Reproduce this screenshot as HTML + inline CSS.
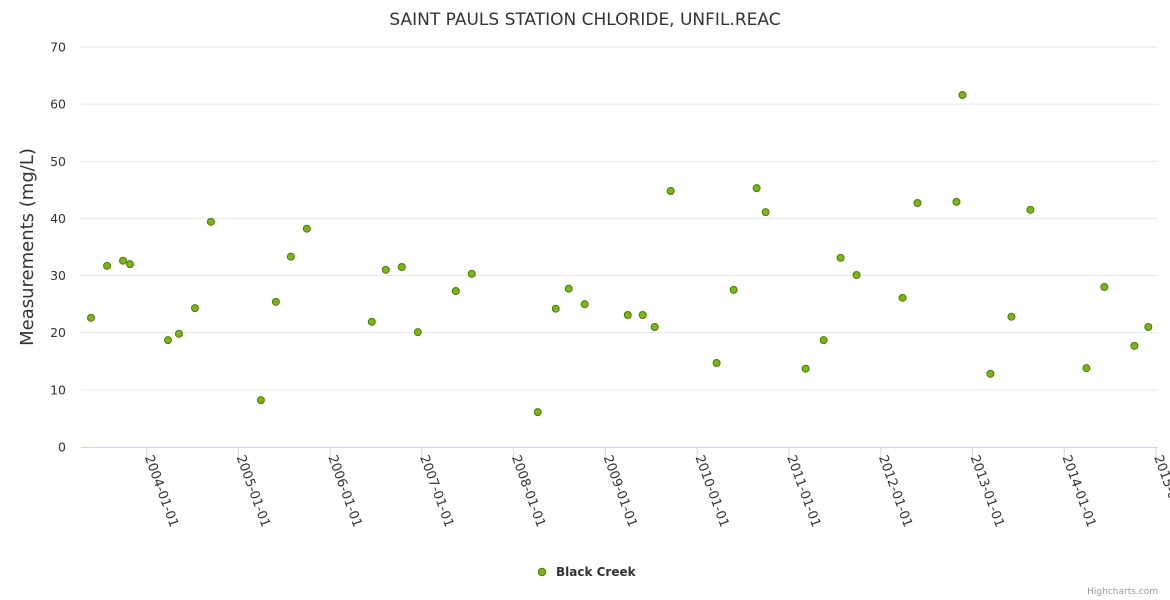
<!DOCTYPE html>
<html><head><meta charset="utf-8"><style>
html,body{margin:0;padding:0;background:#fff;}
svg{display:block;font-family:"DejaVu Sans","Liberation Sans",sans-serif;}
</style></head><body>
<svg id="chart" width="1170" height="600" xmlns="http://www.w3.org/2000/svg">
<text x="585" y="25" text-anchor="middle" font-size="17" fill="#333">SAINT PAULS STATION CHLORIDE, UNFIL.REAC</text>
<text transform="translate(33,247) rotate(-90)" text-anchor="middle" font-size="18" fill="#333">Measurements (mg/L)</text>
<g id="grid"></g><g id="xaxis"></g><g id="points"></g>
<g>
<circle cx="542" cy="572" r="3.7" fill="#7cb518" stroke="#4a7a0a" stroke-width="1"/>
<text x="556" y="576" font-size="12" font-weight="bold" fill="#333">Black Creek</text>
</g>
<text x="1158" y="594" text-anchor="end" font-size="9" fill="#999">Highcharts.com</text>
</svg>
<script>
const yTicks=[0,10,20,30,40,50,60,70];
const xTickYears=[2004,2005,2006,2007,2008,2009,2010,2011,2012,2013,2014,2015];
const dates=[2003.393,2003.568,2003.742,2003.818,2004.232,2004.352,2004.526,2004.700,2005.245,2005.408,2005.571,2005.745,2006.453,2006.606,2006.780,2006.955,2007.369,2007.543,2008.262,2008.458,2008.600,2008.774,2009.243,2009.406,2009.537,2009.711,2010.212,2010.397,2010.648,2010.746,2011.182,2011.378,2011.563,2011.737,2012.238,2012.401,2012.826,2012.891,2013.196,2013.425,2013.632,2014.242,2014.438,2014.765,2014.917];
const values=[22.6,31.7,32.6,32.0,18.7,19.8,24.3,39.4,8.2,25.4,33.3,38.2,21.9,31.0,31.5,20.1,27.3,30.3,6.1,24.2,27.7,25.0,23.1,23.1,21.0,44.8,14.7,27.5,45.3,41.1,13.7,18.7,33.1,30.1,26.1,42.7,42.9,61.6,12.8,22.8,41.5,13.8,28.0,17.7,21.0];
const NS="http://www.w3.org/2000/svg";
const L=81,R=1158,T=47,B=447;
function yS(v){return B-(v/70)*(B-T);}
function xS(yr){return 146.7+(yr-2004)*91.75;}
function mk(t,a,p){const e=document.createElementNS(NS,t);for(const k in a)e.setAttribute(k,a[k]);p.appendChild(e);return e;}
const grid=document.getElementById('grid');
yTicks.forEach(v=>{
  if(v>0){const l=mk('line',{x1:L,x2:R,y1:yS(v),y2:yS(v),stroke:'#e6e6e6','stroke-width':1},grid);
  
  }
  const t=mk('text',{x:66,y:yS(v)+4.5,'text-anchor':'end','font-size':12.5,fill:'#333'},grid);
  t.textContent=v;
  
  
});
const xa=document.getElementById('xaxis');
const ax=mk('line',{x1:L,x2:R,y1:B+0.5,y2:B+0.5,stroke:'#ccd6eb','stroke-width':1},xa);


xTickYears.forEach(y=>{
  const x=xS(y);
  mk('line',{x1:x,x2:x,y1:B,y2:B+10,stroke:'#ccd6eb'},xa);
  const t=mk('text',{transform:`translate(${x-2},${B+10}) rotate(70)`,'font-size':13,fill:'#333'},xa);
  t.textContent=y+'-01-01';
  
  
});
const pg=document.getElementById('points');
dates.forEach((d,i)=>{
  const c=mk('circle',{cx:xS(d),cy:yS(values[i]),r:3.5,fill:'#7cb518',stroke:'#4a7a0a','stroke-width':1},pg);
  
  
});
</script>
</body></html>
